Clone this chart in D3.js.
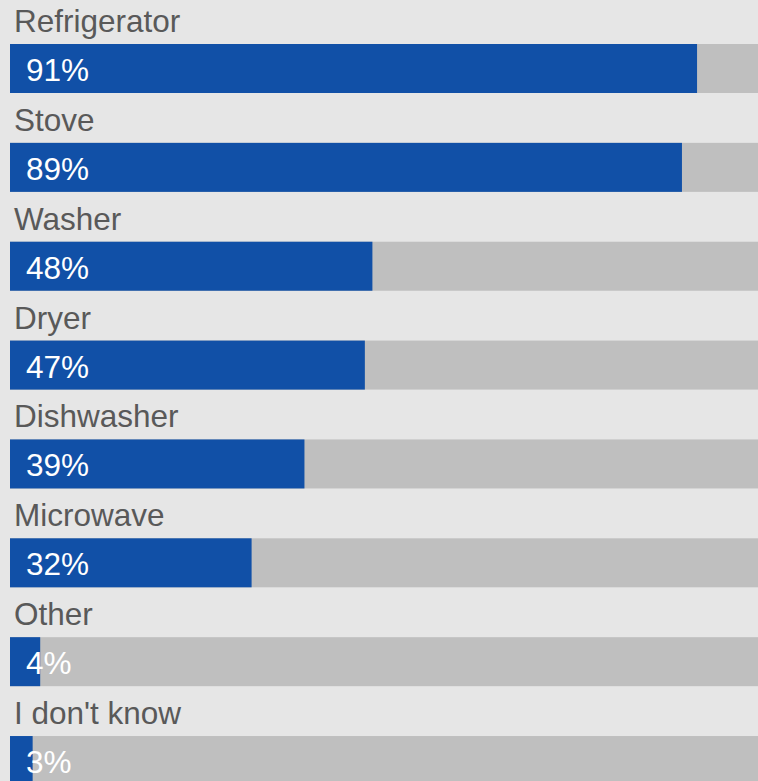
<!DOCTYPE html>
<html>
<head>
<meta charset="utf-8">
<script src="https://cdn.jsdelivr.net/npm/d3@7"></script>
<style>
  html, body { margin: 0; padding: 0; background: #e6e6e6; overflow: hidden; }
  svg { display: block; }
  text { font-family: "Liberation Sans", Arial, sans-serif; }
</style>
</head>
<body>
<svg id="chart" width="758" height="781"></svg>
<script>
// Share of respondents owning each appliance (%)
const categories = ["Refrigerator", "Stove", "Washer", "Dryer", "Dishwasher", "Microwave", "Other", "I don't know"];
const values = [91, 89, 48, 47, 39, 32, 4, 3];
const valueLabels = ["91%", "89%", "48%", "47%", "39%", "32%", "4%", "3%"];

const W = 758, H = 781;
const svg = d3.select("#chart");

svg.append("rect").attr("width", W).attr("height", H).attr("fill", "#e6e6e6");

// Horizontal extent: 0–100% runs past the right edge of the view
const x = d3.scaleLinear().domain([0, 100]).range([10, 765]);

// Each row holds a label line followed by its bar
const row = d3.scaleBand().domain(categories).range([-5.5, 785.4]).paddingInner(0).paddingOuter(0);
const barTop = d => row(d) + 49.5;
const barH = 49;

const g = svg.selectAll("g.row").data(categories).join("g").attr("class", "row");

// Grey track for the full 100%
g.append("rect")
  .attr("x", x(0))
  .attr("y", d => barTop(d))
  .attr("width", x(100) - x(0))
  .attr("height", barH)
  .attr("fill", "#bfbfbf");

// Blue value bar
g.append("rect")
  .attr("x", x(0))
  .attr("y", d => barTop(d))
  .attr("width", (d, i) => x(values[i]) - x(0))
  .attr("height", barH)
  .attr("fill", "#1150a7");

// Category label above the bar
g.append("text")
  .attr("x", 14)
  .attr("y", d => barTop(d) - 12)
  .attr("fill", "#595959")
  .attr("font-size", 31.5)
  .text(d => d);

// Value label inside the bar
g.append("text")
  .attr("x", 26)
  .attr("y", d => barTop(d) + 37)
  .attr("fill", "#ffffff")
  .attr("font-size", 31.5)
  .text((d, i) => valueLabels[i]);
</script>
</body>
</html>
